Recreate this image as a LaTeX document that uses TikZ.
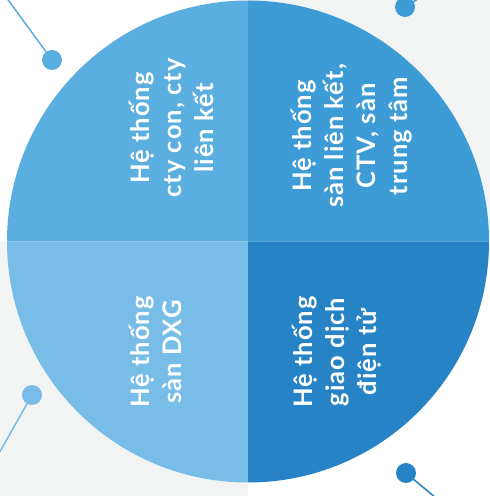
\documentclass[tikz,border=0pt]{standalone}
\usepackage{fontspec}
\setmainfont{Lato}[LetterSpace=4]
\definecolor{bggrey}{RGB}{242,244,244}
\definecolor{qtl}{RGB}{90,175,224}
\definecolor{qtr}{RGB}{61,155,214}
\definecolor{qbl}{RGB}{120,189,232}
\definecolor{qbr}{RGB}{38,131,198}
\begin{document}
\begin{tikzpicture}
  [x=1pt,y=1pt,
   dot/.style={circle,inner sep=0pt,minimum size=20pt},
   lbl/.style={rotate=90,text=white,align=center,inner sep=0pt,
     font=\bfseries\fontsize{25.5}{32}\selectfont}]
  \useasboundingbox (0,0) rectangle (490,496);
  \fill[white] (0,0) rectangle (490,496);
  \fill[bggrey] (248,254.5) rectangle (490,496);
  \fill[bggrey] (0,0) rectangle (248,254.5);

  \coordinate (c) at (248,254.5);
  \fill[qtl] (c) -- ++(-241,0) arc[start angle=180,end angle=90,radius=241] -- cycle;
  \fill[qtr] (c) -- ++(0,241) arc[start angle=90,end angle=0,radius=241] -- cycle;
  \fill[qbl] (c) -- ++(-241,0) arc[start angle=180,end angle=270,radius=241] -- cycle;
  \fill[qbr] (c) -- ++(0,-241) arc[start angle=270,end angle=360,radius=241] -- cycle;

  \node[dot,fill=qtl] (d1) at (52,436) {};
  \node[dot,fill=qtr] (d2) at (405,489) {};
  \node[dot,fill=qbl] (d3) at (32,101) {};
  \node[dot,fill=qbr] (d4) at (406,23) {};
  \coordinate (e1) at (6,499);
  \coordinate (e2) at (421,499);
  \coordinate (e3) at (-2,41);
  \coordinate (e4) at (442,-7);
  \foreach \from/\to/\col in {e1/d1/qtl,e2/d2/qtr,e3/d3/qbl,e4/d4/qbr}
    \draw[line width=1.5pt,\col] (\from) -- (\to.center);

  \node[lbl] (t1) at (171,368) {Hệ thống\\cty con, cty\\liên kết};
  \node[lbl] (t2) at (352,360) {Hệ thống\\sàn liên kết,\\CTV, sàn\\trung tâm};
  \node[lbl] (t3) at (155,144) {Hệ thống\\sàn DXG};
  \node[lbl] (t4) at (337,144) {Hệ thống\\giao dịch\\điện tử};
\end{tikzpicture}
\end{document}
